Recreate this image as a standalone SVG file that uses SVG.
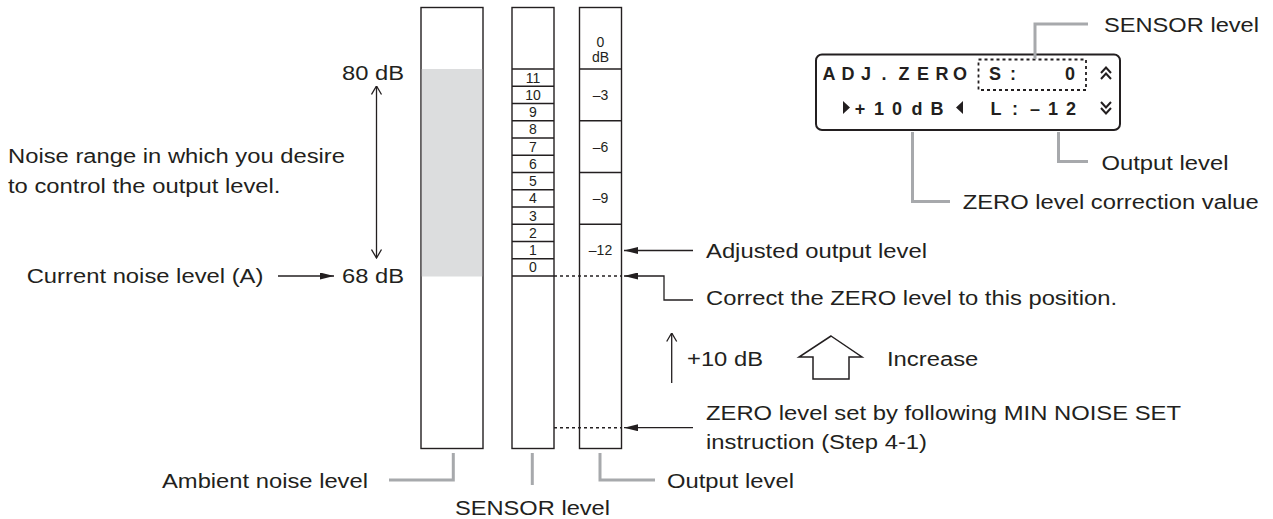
<svg xmlns="http://www.w3.org/2000/svg" width="1273" height="519" viewBox="0 0 1273 519">
<defs>
<style>
text { font-family: "Liberation Sans", Arial, Helvetica, sans-serif; fill: #231f20; }
.lb { font-size: 20px; }
.num { font-size: 14px; text-anchor: middle; }
.lcd { font-size: 18px; font-weight: bold; text-anchor: middle; }
.bar { fill: #fff; stroke: #231f20; stroke-width: 1.4; }
.div { stroke: #231f20; stroke-width: 1.4; }
.dot { stroke: #231f20; stroke-width: 1.4; stroke-dasharray: 3 3; fill: none; }
.lead { stroke: #a7a9ac; stroke-width: 3; fill: none; }
.arr { stroke: #231f20; stroke-width: 1.3; fill: none; }
.icon { stroke: #231f20; stroke-width: 2; fill: none; }
</style>
<marker id="ah" viewBox="0 0 14 7" refX="14" refY="3.5" markerWidth="14" markerHeight="7" markerUnits="userSpaceOnUse" orient="auto">
<path d="M0,0 L14,3.5 L0,7 z" fill="#231f20"/>
</marker>
<marker id="oh" viewBox="0 0 10 12" refX="9.5" refY="6" markerWidth="10" markerHeight="12" markerUnits="userSpaceOnUse" orient="auto-start-reverse">
<path d="M1,1 L9.5,6 L1,11" fill="none" stroke="#231f20" stroke-width="1.3"/>
</marker>
</defs>
<rect width="1273" height="519" fill="#fff"/>

<g id="ambient-bar">
<rect class="bar" x="421" y="7.5" width="62" height="441"/>
<rect x="421.8" y="69" width="60.4" height="207.5" fill="#dcddde"/>
</g>

<g id="sensor-bar">
<rect class="bar" x="512" y="7.5" width="42" height="441"/>
<g class="div">
<line x1="512" y1="69" x2="554" y2="69"/>
<line x1="512" y1="86.25" x2="554" y2="86.25"/>
<line x1="512" y1="103.5" x2="554" y2="103.5"/>
<line x1="512" y1="120.75" x2="554" y2="120.75"/>
<line x1="512" y1="138" x2="554" y2="138"/>
<line x1="512" y1="155.25" x2="554" y2="155.25"/>
<line x1="512" y1="172.5" x2="554" y2="172.5"/>
<line x1="512" y1="189.75" x2="554" y2="189.75"/>
<line x1="512" y1="207" x2="554" y2="207"/>
<line x1="512" y1="224.25" x2="554" y2="224.25"/>
<line x1="512" y1="241.5" x2="554" y2="241.5"/>
<line x1="512" y1="258.75" x2="554" y2="258.75"/>
<line x1="512" y1="276" x2="554" y2="276"/>
</g>
<text class="num" x="533" y="82.6">11</text>
<text class="num" x="533" y="99.9">10</text>
<text class="num" x="533" y="117.1">9</text>
<text class="num" x="533" y="134.4">8</text>
<text class="num" x="533" y="151.6">7</text>
<text class="num" x="533" y="168.9">6</text>
<text class="num" x="533" y="186.1">5</text>
<text class="num" x="533" y="203.4">4</text>
<text class="num" x="533" y="220.6">3</text>
<text class="num" x="533" y="237.9">2</text>
<text class="num" x="533" y="255.1">1</text>
<text class="num" x="533" y="272.4">0</text>
</g>

<g id="output-bar">
<rect class="bar" x="579.5" y="7.5" width="42" height="441"/>
<g class="div">
<line x1="579.5" y1="69" x2="621.5" y2="69"/>
<line x1="579.5" y1="120.75" x2="621.5" y2="120.75"/>
<line x1="579.5" y1="172.5" x2="621.5" y2="172.5"/>
<line x1="579.5" y1="224.25" x2="621.5" y2="224.25"/>
</g>
<text class="num" x="600.5" y="47">0</text>
<text class="num" x="600.5" y="61.5">dB</text>
<text class="num" x="600.5" y="99.9">–3</text>
<text class="num" x="600.5" y="151.6">–6</text>
<text class="num" x="600.5" y="203.4">–9</text>
<text class="num" x="600.5" y="255.1">–12</text>
</g>

<g id="lcd">
<rect x="816" y="54.5" width="304" height="75.5" rx="6" fill="#fff" stroke="#231f20" stroke-width="2"/>
<rect x="978.5" y="59.5" width="107.5" height="30.5" fill="none" stroke="#231f20" stroke-width="1.8" stroke-dasharray="3 3"/>
<text class="lcd" x="829 848 866 884 904 923 942 960" y="79.5">ADJ.ZERO</text>
<text class="lcd" x="995 1013 1070" y="79.5">S:0</text>
<text class="lcd" x="860 879 897 917 937" y="114.5">+10dB</text>
<text class="lcd" x="996 1015 1035 1053 1071" y="114.5">L:–12</text>
<polygon points="843,101 850,107.5 843,114" fill="#231f20"/>
<polygon points="963,101 956,107.5 963,114" fill="#231f20"/>
<polyline class="icon" points="1101,73 1106,67.5 1111,73"/>
<polyline class="icon" points="1101,79 1106,73.5 1111,79"/>
<polyline class="icon" points="1101,102 1106,107.5 1111,102"/>
<polyline class="icon" points="1101,108 1106,113.5 1111,108"/>
</g>

<g id="increase-arrow">
<polygon points="831,336 862,357 849,357 849,379 813,379 813,357 799,357" fill="#fff" stroke="#231f20" stroke-width="1.5" stroke-linejoin="miter"/>
</g>

<g id="connectors">
<line class="dot" x1="554" y1="276" x2="621.5" y2="276"/>
<line class="dot" x1="554" y1="427.7" x2="621.5" y2="427.7"/>
<line class="arr" x1="693" y1="250.5" x2="624" y2="250.5" marker-end="url(#ah)"/>
<polyline class="arr" points="693,300 664,300 664,276 624,276" marker-end="url(#ah)"/>
<line class="arr" x1="693" y1="427.7" x2="624" y2="427.7" marker-end="url(#ah)"/>
<line class="arr" x1="278" y1="276" x2="334" y2="276" marker-end="url(#ah)"/>
<line class="arr" x1="376.5" y1="258" x2="376.5" y2="86" marker-start="url(#oh)" marker-end="url(#oh)"/>
<line class="arr" x1="671.7" y1="383" x2="671.7" y2="333" marker-end="url(#oh)"/>
<polyline class="lead" points="453.3,453 453.3,480 389,480"/>
<line class="lead" x1="532.3" y1="453" x2="532.3" y2="485"/>
<polyline class="lead" points="600,453 600,480 655,480"/>
<polyline class="lead" points="1035,59 1035,24 1088,24"/>
<polyline class="lead" points="912.5,132 912.5,201.5 950,201.5"/>
<polyline class="lead" points="1058.5,132 1058.5,161.5 1088,161.5"/>
</g>

<g id="labels" class="lb">
<text class="lb" x="404" y="80" text-anchor="end" textLength="62" lengthAdjust="spacingAndGlyphs">80 dB</text>
<text class="lb" x="404" y="283" text-anchor="end" textLength="62" lengthAdjust="spacingAndGlyphs">68 dB</text>
<text class="lb" x="8" y="163" textLength="337" lengthAdjust="spacingAndGlyphs">Noise range in which you desire</text>
<text class="lb" x="8" y="193" textLength="272.5" lengthAdjust="spacingAndGlyphs">to control the output level.</text>
<text class="lb" x="26.7" y="283" textLength="236.7" lengthAdjust="spacingAndGlyphs">Current noise level (A)</text>
<text class="lb" x="706" y="258" textLength="221" lengthAdjust="spacingAndGlyphs">Adjusted output level</text>
<text class="lb" x="706" y="305" textLength="411" lengthAdjust="spacingAndGlyphs">Correct the ZERO level to this position.</text>
<text class="lb" x="687" y="366" textLength="76" lengthAdjust="spacingAndGlyphs">+10 dB</text>
<text class="lb" x="887" y="366" textLength="91.3" lengthAdjust="spacingAndGlyphs">Increase</text>
<text class="lb" x="706" y="420" textLength="475" lengthAdjust="spacingAndGlyphs">ZERO level set by following MIN NOISE SET</text>
<text class="lb" x="706" y="449" textLength="221" lengthAdjust="spacingAndGlyphs">instruction (Step 4-1)</text>
<text class="lb" x="368" y="488" text-anchor="end" textLength="206" lengthAdjust="spacingAndGlyphs">Ambient noise level</text>
<text class="lb" x="455" y="515" textLength="155" lengthAdjust="spacingAndGlyphs">SENSOR level</text>
<text class="lb" x="667" y="488" textLength="127" lengthAdjust="spacingAndGlyphs">Output level</text>
<text class="lb" x="1104" y="31.5" textLength="155" lengthAdjust="spacingAndGlyphs">SENSOR level</text>
<text class="lb" x="1101.5" y="169.5" textLength="127" lengthAdjust="spacingAndGlyphs">Output level</text>
<text class="lb" x="962.7" y="208.5" textLength="296" lengthAdjust="spacingAndGlyphs">ZERO level correction value</text>
</g>
</svg>
